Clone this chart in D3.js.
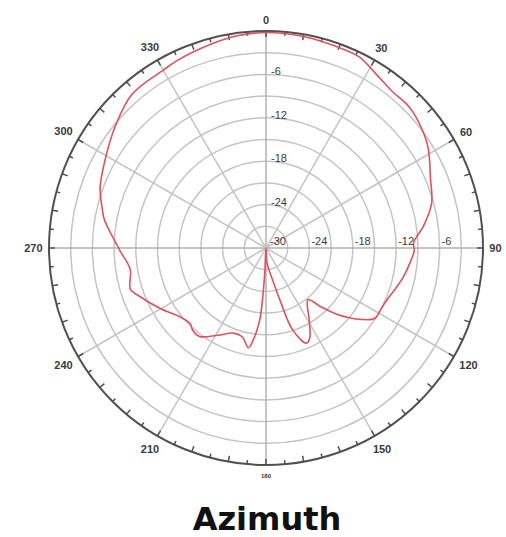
<!DOCTYPE html>
<html>
<head>
<meta charset="utf-8">
<script src="https://cdnjs.cloudflare.com/ajax/libs/d3/7.8.5/d3.min.js"></script>
<style>
  body { margin: 0; background: #fff; }
  svg { display: block; }
</style>
</head>
<body>
<div id="chart"></div>
<script>
// azimuth pattern: angle in degrees (clockwise from top), gain in dB
var angles = [0, 10, 20, 26, 32, 39, 45, 51, 58, 67, 75, 82, 88, 91, 96, 102, 108, 113, 118, 123,
  127, 130, 133, 137, 141, 149, 154, 157, 162, 165, 168, 176, 180, 183, 185, 188, 190, 195, 201,
  209, 217, 222, 225, 231, 240, 249, 253, 261, 269, 280, 283, 290, 299, 309, 319, 330, 335, 345, 352];
var gains = [-0.2, -0.3, -0.5, -0.6, -1.5, -2.2, -2.2, -2.7, -3.6, -5.3, -6.3, -8.0, -9.6, -9.5, -10.0, -10.6, -11.3, -11.8, -12.0, -12.1,
  -13.6, -15.0, -16.5, -18.9, -20.8, -18.4, -16.2, -15.7, -18.1, -22.5, -25.3, -27.9, -30, -26, -20, -17.1, -16.0, -17.3, -17.4,
  -16.2, -14.7, -14.8, -15.2, -14.8, -13.2, -11.3, -10.4, -11.0, -9.8, -7.3, -6.8, -5.6, -4.6, -3.2, -1.8, -1.6, -1.3, -0.8, -0.4];

var ringValues = [-27, -24, -21, -18, -15, -12, -9, -6, -3];
var dbLabels = [-24, -18, -12, -6];
var angleLabels = [0, 30, 60, 90, 120, 150, 180, 210, 240, 270, 300, 330];

var width = 506, height = 537;
var cx = 266, cy = 248, R = 217;

var svg = d3.select("#chart").append("svg")
  .attr("width", width)
  .attr("height", height);

var r = d3.scaleLinear().domain([-30, 0]).range([0, R]).clamp(true);
var rad = function(a) { return a * Math.PI / 180; };

var g = svg.append("g").attr("transform", "translate(" + cx + "," + cy + ")");

// rings
g.selectAll(".ring")
  .data(ringValues)
  .enter().append("circle")
  .attr("class", "ring")
  .attr("r", function(d) { return r(d); })
  .style("fill", "none")
  .style("stroke", "#c4c4c4")
  .style("stroke-width", 1.5);

// spokes every 30 deg
g.selectAll(".spoke")
  .data(d3.range(0, 360, 30))
  .enter().append("line")
  .attr("class", "spoke")
  .attr("x1", 0).attr("y1", 0)
  .attr("x2", function(d) { return R * Math.sin(rad(d)); })
  .attr("y2", function(d) { return -R * Math.cos(rad(d)); })
  .style("stroke", function(d) { return d % 90 === 0 ? "#b0b0b0" : "#c4c4c4"; })
  .style("stroke-width", 1.5);

// outer circle + ticks
g.append("circle")
  .attr("r", R)
  .style("fill", "none")
  .style("stroke", "#505050")
  .style("stroke-width", 2);

g.selectAll(".tick")
  .data(d3.range(0, 360, 5))
  .enter().append("line")
  .attr("class", "tick")
  .attr("x1", function(d) { return R * Math.sin(rad(d)); })
  .attr("y1", function(d) { return -R * Math.cos(rad(d)); })
  .attr("x2", function(d) { var l = d % 10 === 0 ? 6 : 4; return (R - l) * Math.sin(rad(d)); })
  .attr("y2", function(d) { var l = d % 10 === 0 ? 6 : 4; return -(R - l) * Math.cos(rad(d)); })
  .style("stroke", "#505050")
  .style("stroke-width", 1.5);

// pattern
var pts = angles.map(function(a, i) { return [rad(a), r(gains[i])]; });
var line = d3.lineRadial()
  .angle(function(d) { return d[0]; })
  .radius(function(d) { return d[1]; })
  .curve(d3.curveCatmullRomClosed.alpha(0.5));

g.append("path")
  .datum(pts)
  .attr("d", line)
  .style("fill", "none")
  .style("stroke", "#e0505e")
  .style("stroke-width", 1.6);

// dB labels
var lblFont = "'Liberation Sans', Arial, sans-serif";
g.append("text")
  .attr("x", 4).attr("y", -3)
  .style("font-family", lblFont).style("font-size", "11px").style("fill", "#3a3a3a")
  .text("-30");

g.selectAll(".dbv")
  .data(dbLabels)
  .enter().append("text")
  .attr("class", "dbv")
  .attr("x", 5)
  .attr("y", function(d) { return -r(d) + 1; })
  .style("font-family", lblFont).style("font-size", "11px").style("fill", "#3a3a3a")
  .text(function(d) { return d; });

g.selectAll(".dbh")
  .data(dbLabels)
  .enter().append("text")
  .attr("class", "dbh")
  .attr("x", function(d) { return r(d) + 2; })
  .attr("y", -3)
  .style("font-family", lblFont).style("font-size", "11px").style("fill", "#3a3a3a")
  .text(function(d) { return d; });

// angle labels
g.selectAll(".alab")
  .data(angleLabels)
  .enter().append("text")
  .attr("class", "alab")
  .attr("x", function(d) {
    var s = Math.sin(rad(d)), c = Math.cos(rad(d));
    var hw = String(d).length * 3.2, hh = 5;
    var dist = R + 6 + hw * Math.abs(s) + hh * Math.abs(c);
    return dist * s;
  })
  .attr("y", function(d) {
    var s = Math.sin(rad(d)), c = Math.cos(rad(d));
    var hw = String(d).length * 3.2, hh = 5;
    var dist = R + 6 + hw * Math.abs(s) + hh * Math.abs(c);
    return -dist * c;
  })
  .attr("text-anchor", "middle")
  .attr("dominant-baseline", "central")
  .style("font-family", lblFont)
  .style("font-weight", "bold")
  .style("font-size", function(d) { return d === 180 ? "6px" : "11px"; })
  .style("fill", "#3a3a3a")
  .text(function(d) { return d; });

// title
svg.append("text")
  .attr("x", 267)
  .attr("y", 530)
  .attr("text-anchor", "middle")
  .style("font-family", "'DejaVu Sans', sans-serif")
  .style("font-weight", "bold")
  .style("font-size", "32px")
  .style("fill", "#111")
  .text("Azimuth");
</script>
</body>
</html>
